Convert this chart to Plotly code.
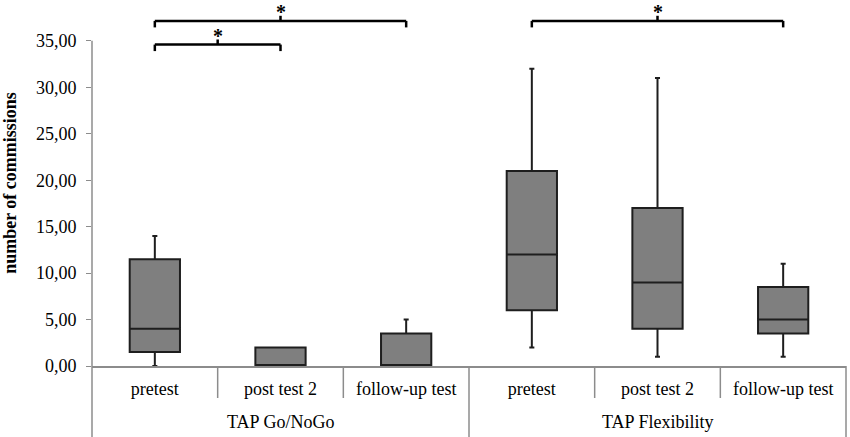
import plotly.graph_objects as go

# test groups and conditions
groups = ["TAP Go/NoGo"] * 3 + ["TAP Flexibility"] * 3
conditions = ["pretest", "post test 2", "follow-up test"] * 2
group_names = ["TAP Go/NoGo", "TAP Flexibility"]

# box statistics
lower = [0, 0, 0, 2, 1, 1]
q1 = [1.5, 0, 0, 6, 4, 3.5]
median = [4, 0, 0, 12, 9, 5]
q3 = [11.5, 2, 3.5, 21, 17, 8.5]
upper = [14, 2, 5, 32, 31, 11]

y_ticks = [0, 5, 10, 15, 20, 25, 30, 35]

# significance brackets: from box index, to box index, height
br_from = [0, 0, 3]
br_to = [1, 2, 5]
br_height = [34.6, 37.15, 37.15]

keys = [g + " | " + c for g, c in zip(groups, conditions)]
font = "Liberation Serif"
grey = "#8c8c8c"
bottom = -71 / 366  # paper y of the figure bottom

fig = go.Figure()
fig.add_trace(go.Box(
    x=keys,
    q1=q1, median=median, q3=q3,
    lowerfence=lower, upperfence=upper,
    width=0.4,
    whiskerwidth=0.1,
    fillcolor="#7f7f7f",
    line=dict(color="#1e1e1e", width=2),
    boxpoints=False,
    hoverinfo="skip",
    showlegend=False,
))

for a, b, h in zip(br_from, br_to, br_height):
    mid = (a + b) / 2
    line = dict(color="black", width=2.5)
    fig.add_shape(type="line", x0=a, x1=b, y0=h, y1=h, line=line)
    fig.add_shape(type="line", x0=a, x1=a, y0=h, y1=h - 0.7, line=line)
    fig.add_shape(type="line", x0=b, x1=b, y0=h, y1=h - 0.7, line=line)
    fig.add_shape(type="line", x0=mid, x1=mid, y0=h, y1=h + 0.55, line=line)
    fig.add_annotation(x=mid, y=h + 2.2, text="<b>*</b>", showarrow=False,
                       yanchor="top", borderpad=0,
                       font=dict(family=font, size=20, color="black"))

# category boundaries below the axis
n = len(keys)
for i in range(n - 1):
    full = (i + 1) % 3 == 0
    fig.add_shape(type="line", xref="x", yref="paper", x0=i + 0.5, x1=i + 0.5,
                  y0=0, y1=bottom if full else -32 / 366, line=dict(color=grey, width=1.5))
for xp in [0, 1]:
    fig.add_shape(type="line", xref="paper", yref="paper", x0=xp, x1=xp,
                  y0=0, y1=bottom, line=dict(color=grey, width=1.5))
# y axis line only up to the top tick
fig.add_shape(type="line", xref="paper", yref="y", x0=0, x1=0, y0=0, y1=y_ticks[-1],
              line=dict(color=grey, width=1.5))

# group labels
for k, g in enumerate(group_names):
    fig.add_annotation(x=3 * k + 1, y=-56 / 366, xref="x", yref="paper", text=g,
                       showarrow=False, yanchor="middle",
                       font=dict(family=font, size=18, color="black"))

fig.update_layout(
    width=850, height=437,
    margin=dict(l=92, r=4, t=0, b=71, autoexpand=False),
    plot_bgcolor="white", paper_bgcolor="white",
    separators=",.",
    font=dict(family=font, size=18, color="black"),
)
fig.update_yaxes(
    range=[0, 39.4], tickvals=y_ticks, tickformat=".2f",
    showgrid=False, zeroline=False, automargin=False,
    showline=False, ticks="outside", ticklen=5, tickcolor=grey,
    ticklabelstandoff=6,
    tickfont=dict(family=font, size=18, color="black"),
    title=dict(text="<b>number of commissions</b>",
               font=dict(family=font, size=18, color="black"), standoff=16),
)
fig.update_xaxes(
    type="category", tickvals=keys, ticktext=conditions,
    showgrid=False, showline=True, linecolor=grey, linewidth=1.5, automargin=False,
    ticks="outside", ticklen=6, tickcolor="rgba(0,0,0,0)",
    tickfont=dict(family=font, size=18, color="black"),
)

# drop the default page margin so the figure fills the window
fig.write_html("out.html", config={"displayModeBar": False},
               post_script="document.body.style.margin = '0';")
